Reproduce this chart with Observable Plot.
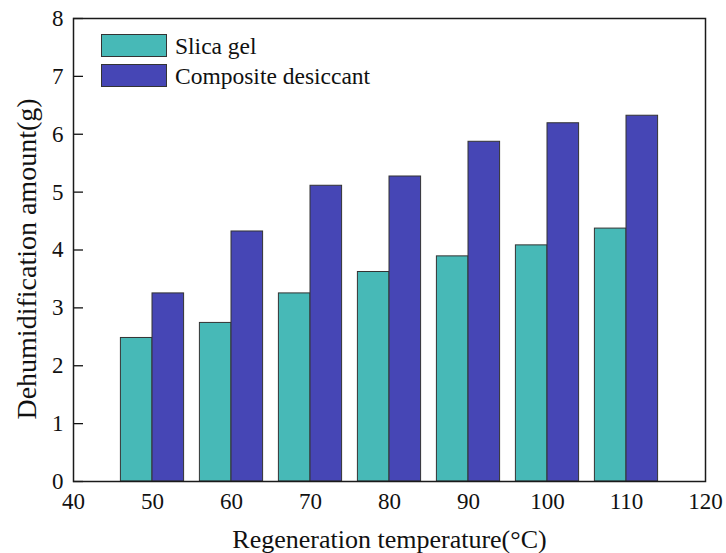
<!DOCTYPE html>
<html>
<head>
<meta charset="utf-8">
<script src="https://cdn.jsdelivr.net/npm/d3@7"></script>
<script src="https://cdn.jsdelivr.net/npm/@observablehq/plot@0.6"></script>
<style>
  body { margin: 0; background: #fff; }
  #chart { position: relative; width: 726px; height: 553px; font-family: "Liberation Serif", "Times New Roman", serif; color: #111; }
  #chart svg { display: block; }
  #chart svg text { font-family: "Liberation Serif", "Times New Roman", serif !important; }
  .legend { position: absolute; left: 101px; top: 34px; }
  .legend .item { position: relative; height: 30px; }
  .legend .swatch { position: absolute; left: 0; top: 0; width: 64px; height: 21px; border: 1px solid #333; box-sizing: content-box; }
  .legend .name { position: absolute; left: 74px; top: -3px; font-size: 23.5px; line-height: 30px; white-space: nowrap; }
</style>
</head>
<body>
<div id="chart"></div>
<script>
// Regeneration temperatures (°C) and dehumidification amounts (g)
const temperatures = [50, 60, 70, 80, 90, 100, 110];
const silicaGel = [2.48, 2.74, 3.25, 3.62, 3.89, 4.08, 4.37];
const compositeDesiccant = [3.25, 4.32, 5.11, 5.27, 5.87, 6.19, 6.32];

const seriesNames = ["Slica gel", "Composite desiccant"];
const seriesColors = ["#47b9b7", "#4646b5"];

const xTicks = [40, 50, 60, 70, 80, 90, 100, 110, 120];
const yTicks = [0, 1, 2, 3, 4, 5, 6, 7, 8];
const xTitle = "Regeneration temperature(°C)";
const yTitle = "Dehumidification amount(g)";

// each bar spans this many degrees on either side of its temperature
const barSpan = 4;

const rows = temperatures.flatMap((t, i) => [
  { series: seriesNames[0], value: silicaGel[i], x1: t - barSpan, x2: t },
  { series: seriesNames[1], value: compositeDesiccant[i], x1: t, x2: t + barSpan }
]);

const chart = Plot.plot({
  width: 726,
  height: 553,
  marginLeft: 73,
  marginRight: 21,
  marginTop: 18,
  marginBottom: 72,
  style: { fontFamily: "'Liberation Serif', 'Times New Roman', serif", fontSize: "23px", color: "#111", background: "white" },
  x: { domain: [40, 120] },
  y: { domain: [0, 8] },
  color: { domain: seriesNames, range: seriesColors },
  marks: [
    Plot.rect(rows, { x1: "x1", x2: "x2", y1: 0, y2: "value", fill: "series", stroke: "#333", strokeWidth: 1 }),
    Plot.axisX({ ticks: xTicks, tickSize: 0, tickPadding: 11, label: null, fontSize: 23 }),
    Plot.axisY({ ticks: yTicks, tickSize: -10, tickPadding: 20, label: null, fontSize: 23, stroke: "#111", strokeWidth: 1.3 }),
    Plot.frame({ stroke: "#1a1a1a", strokeWidth: 1.5 }),
    Plot.text([xTitle], { text: d => d, frameAnchor: "bottom", dy: 57.7, fontSize: 26, lineAnchor: "middle", textAnchor: "middle" }),
    Plot.text([yTitle], { text: d => d, frameAnchor: "left", rotate: -90, dx: -46.6, dy: 9, fontSize: 28, lineAnchor: "middle", textAnchor: "middle" })
  ]
});

const container = document.getElementById("chart");
container.appendChild(chart);

// Legend drawn over the upper-left of the plot area
const legend = document.createElement("div");
legend.className = "legend";
seriesNames.forEach((name, i) => {
  const item = document.createElement("div");
  item.className = "item";
  const sw = document.createElement("div");
  sw.className = "swatch";
  sw.style.background = seriesColors[i];
  const label = document.createElement("div");
  label.className = "name";
  label.textContent = name;
  item.appendChild(sw);
  item.appendChild(label);
  legend.appendChild(item);
});
container.appendChild(legend);
</script>
</body>
</html>
